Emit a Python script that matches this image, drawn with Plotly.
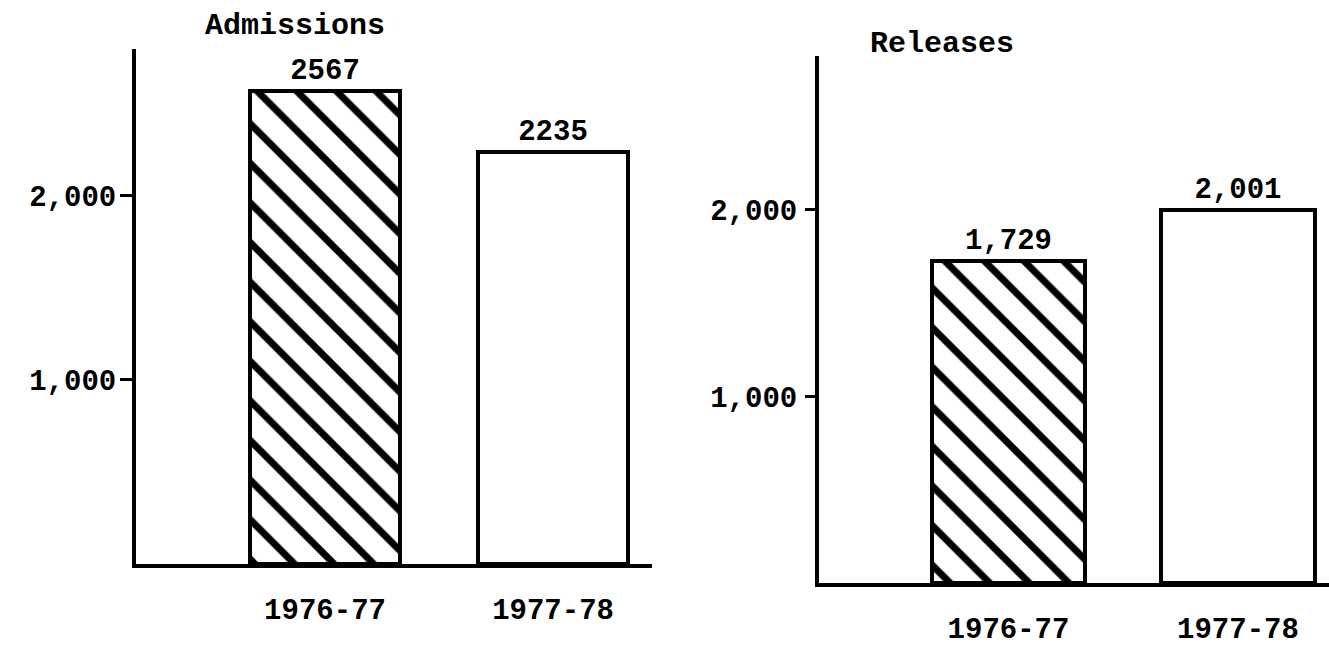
import plotly.graph_objects as go

# Figure size in pixels
W, H = 1329, 647

# Data
periods = ["1976-77", "1977-78"]
admissions = [2567, 2235]
releases = [1729, 2001]
panel_titles = ["Admissions", "Releases"]
y_tick_values = [1000, 2000]

FONT = dict(family="Liberation Mono, Courier New, monospace", size=29, color="black", weight="bold")
INK = "black"


def fx(px):
    return px / W


def fy(py):
    return 1 - py / H


fig = go.Figure()

# First period is hatched, second period is plain white
shapes = ["\\", ""]
hatch = dict(shape=shapes, fgcolor=INK, bgcolor="white", size=28, solidity=0.25, fillmode="replace")

fig.add_trace(go.Bar(
    x=periods, y=admissions, xaxis="x", yaxis="y",
    width=0.66,
    marker=dict(color="white", line=dict(color=INK, width=4), pattern=hatch),
    texttemplate="%{y:d}", textposition="outside", textfont=FONT,
    constraintext="none", cliponaxis=False, showlegend=False,
))

fig.add_trace(go.Bar(
    x=periods, y=releases, xaxis="x2", yaxis="y2",
    width=0.67,
    marker=dict(color="white", line=dict(color=INK, width=4), pattern=hatch),
    texttemplate="%{y:,d}", textposition="outside", textfont=FONT,
    constraintext="none", cliponaxis=False, showlegend=False,
))

common_x = dict(type="category", showline=True, linewidth=4, linecolor=INK,
                showgrid=False, zeroline=False, ticks="", tickfont=FONT,
                ticklabelstandoff=16, fixedrange=True)
common_y = dict(showline=True, linewidth=4, linecolor=INK, showgrid=False,
                zeroline=False, ticks="outside", tickcolor=INK, tickwidth=3,
                tickvals=y_tick_values, tickformat=",", tickfont=FONT,
                fixedrange=True)

fig.update_layout(
    width=W, height=H,
    margin=dict(l=0, r=0, t=0, b=0),
    paper_bgcolor="white", plot_bgcolor="white",
    bargap=0,
    xaxis=dict(common_x, domain=[fx(136), fx(652)], range=[-0.829, 1.434], anchor="y"),
    yaxis=dict(common_y, domain=[fy(575), fy(50)], range=[0, 2793], anchor="x",
               ticklen=12, ticklabelstandoff=-2),
    xaxis2=dict(common_x, domain=[fx(819), 1.0], range=[-0.826, 1.397], anchor="y2"),
    yaxis2=dict(common_y, domain=[fy(594), fy(57)], range=[0, 2826], anchor="x2",
                ticklen=10, ticklabelstandoff=2),
    annotations=[
        dict(text=panel_titles[0], x=fx(295), y=fy(26), xref="paper", yref="paper",
             showarrow=False, font=dict(FONT, size=30), xanchor="center", yanchor="middle"),
        dict(text=panel_titles[1], x=fx(942), y=fy(45), xref="paper", yref="paper",
             showarrow=False, font=dict(FONT, size=30), xanchor="center", yanchor="middle"),
    ],
)

fig.write_html("out.html")
